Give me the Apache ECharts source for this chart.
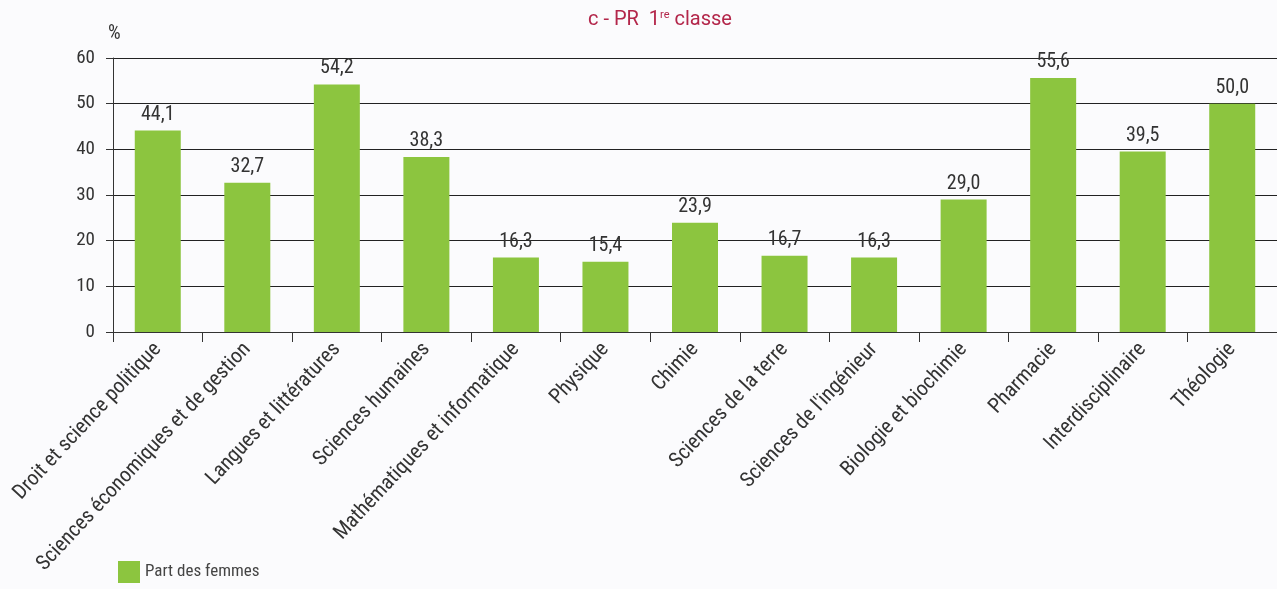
<!DOCTYPE html>
<html>
<head>
<meta charset="utf-8">
<script src="https://cdn.jsdelivr.net/npm/echarts@6/dist/echarts.min.js"></script>
<style>
html,body{margin:0;padding:0;background:#fbfbfd;}
#chart{width:1277px;height:589px;}
</style>
</head>
<body>
<div id="chart"></div>
<script>
var categories = ['Droit et science politique', 'Sciences économiques et de gestion', 'Langues et littératures',
    'Sciences humaines', 'Mathématiques et informatique', 'Physique', 'Chimie', 'Sciences de la terre',
    "Sciences de l'ingénieur", 'Biologie et biochimie', 'Pharmacie', 'Interdisciplinaire', 'Théologie'];
var partFemmes = [44.1, 32.7, 54.2, 38.3, 16.3, 15.4, 23.9, 16.7, 16.3, 29.0, 55.6, 39.5, 50.0];
var yTicks = [0, 10, 20, 30, 40, 50, 60];

var font = '"Roboto Condensed", "Liberation Sans Narrow", "DejaVu Sans Condensed", Roboto, sans-serif';
var chart = echarts.init(document.getElementById('chart'));

var option = {
    backgroundColor: '#fbfbfd',
    animation: false,
    title: {
        text: '{a|c - PR  1}{s|re}{a| classe}',
        left: 583,
        top: 5,
        textStyle: {
            fontWeight: 'normal',
            rich: {
                a: {fontFamily: 'Roboto, sans-serif', fontSize: 20, fontWeight: 'normal', color: '#b3264a'},
                s: {fontFamily: 'Roboto, sans-serif', fontSize: 11, fontWeight: 'normal', color: '#b3264a', verticalAlign: 'top', padding: [0, 0, 8, 0]}
            }
        }
    },
    legend: {
        left: 113,
        bottom: 1,
        itemWidth: 22,
        itemHeight: 22,
        itemGap: 10,
        icon: 'rect',
        data: ['Part des femmes'],
        textStyle: {fontFamily: font, fontSize: 17, color: '#444'}
    },
    grid: {left: 113, right: 0, top: 58, bottom: 257, containLabel: false},
    xAxis: {
        type: 'category',
        data: categories,
        axisLine: {lineStyle: {color: '#333', width: 1}},
        axisTick: {show: true, length: 10, lineStyle: {color: '#333'}},
        axisLabel: {
            rotate: 47,
            interval: 0,
            margin: 14,
            fontFamily: font,
            fontSize: 21,
            color: '#333'
        }
    },
    yAxis: {
        type: 'value',
        min: 0,
        max: 60,
        interval: 10,
        name: '%',
        nameLocation: 'end',
        nameGap: 14,
        nameTextStyle: {fontFamily: font, fontSize: 20, color: '#333', align: 'left', padding: [0, 0, 0, -5]},
        axisLine: {show: true, lineStyle: {color: '#333', width: 1}},
        axisTick: {show: true, length: 7, lineStyle: {color: '#333'}},
        axisLabel: {
            fontFamily: font,
            fontSize: 19,
            color: '#333',
            margin: 18,
            formatter: function (v) { return yTicks.indexOf(v) >= 0 ? String(v) : ''; }
        },
        splitLine: {show: true, lineStyle: {color: '#222', width: 1}}
    },
    series: [{
        name: 'Part des femmes',
        type: 'bar',
        data: partFemmes,
        barWidth: 46,
        itemStyle: {color: '#8cc53f'},
        label: {
            show: true,
            position: 'top',
            distance: 6,
            fontFamily: font,
            fontSize: 20,
            color: '#333',
            formatter: function (p) { return p.value.toFixed(1).replace('.', ','); }
        }
    }]
};
chart.setOption(option);
</script>
</body>
</html>
